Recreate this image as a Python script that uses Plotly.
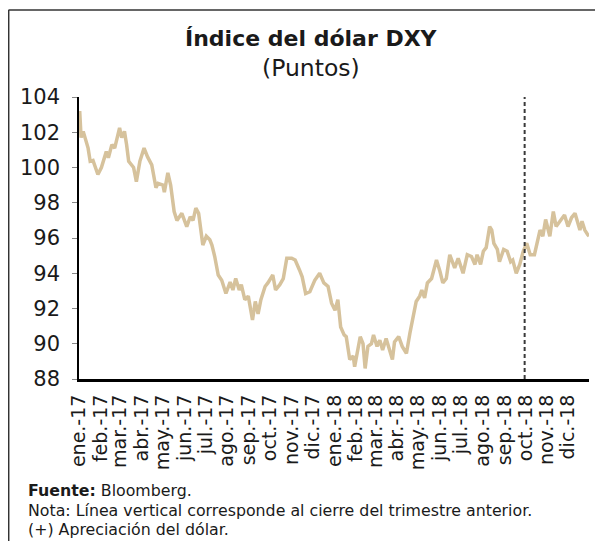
import pandas as pd
import plotly.graph_objects as go

# Días transcurridos desde 2017-01-01 y nivel del índice DXY (puntos)
dias = [0, 1, 3, 6, 13, 16, 20, 27, 32, 39, 42, 47, 51, 58, 61, 65, 68, 71, 78, 82, 87, 93, 98, 104,
        110, 113, 120, 122, 127, 131, 136, 140, 147, 154, 159, 163, 167, 171, 177, 182, 187, 190,
        194, 199, 204, 210, 216, 220, 224, 229, 232, 237, 242, 248, 252, 256, 260, 266, 270, 277,
        281, 287, 292, 297, 304, 309, 315, 319, 324, 330, 337, 344, 350, 356, 361, 366,
        370, 374, 379, 382, 387, 392, 394, 398, 402, 406, 409, 413, 418, 421, 426, 430, 434, 439,
        444, 448, 451, 457, 462, 468, 473, 478, 482, 487, 490, 494, 498, 504, 509, 511, 516, 520,
        525, 530, 537, 542, 549, 555, 561, 566, 569, 574, 578, 582, 587, 590, 593, 598, 601, 607,
        612, 617, 620, 625, 630, 635, 640, 645, 651, 655, 659, 663, 667, 673, 678, 682, 687, 694,
        699, 704, 709, 716, 719, 723, 727, 729]
dxy = [102.6, 103.2, 101.7, 102.05, 101.1, 100.35, 100.4, 99.6, 100.0, 100.9, 100.55, 101.3, 101.1,
       102.25, 101.7, 102.05, 101.3, 100.35, 100.0, 99.2, 100.35, 101.1, 100.6, 100.15,
       98.85, 99.1, 99.0, 98.6, 99.7, 99.0, 97.5, 97.0, 97.4, 96.65, 97.2, 97.0, 97.7, 97.4, 95.6,
       96.1, 95.9, 95.6,
       94.95, 93.9, 93.6, 92.85, 93.5, 93.05, 93.7, 93.05, 93.35, 92.5, 92.7, 91.35, 92.4, 91.7,
       92.5, 93.25, 93.45, 93.9, 93.05, 93.35, 93.7, 94.85, 94.85, 94.75, 94.2, 93.8, 92.85, 92.95,
       93.6, 94.0, 93.45, 93.25, 92.3, 91.9,
       92.5, 90.95, 90.5, 90.4, 89.1, 89.3, 88.7, 89.45, 90.4, 90.0, 88.6, 89.85, 90.0, 90.5, 89.85,
       90.2, 89.65, 90.3, 89.65, 89.1, 90.1, 90.4, 89.85, 89.45, 90.6, 91.55, 92.4, 92.7, 93.05,
       92.6, 93.45, 93.7, 94.4, 94.75, 94.1, 93.45, 93.7, 95.05,
       94.3, 94.85, 94.0, 95.05, 94.95, 94.5, 95.05, 94.5, 95.25, 95.45, 96.65, 96.45, 95.7, 95.35,
       94.65, 95.35, 95.25, 94.65, 94.75, 94.0, 94.5, 95.25, 95.7, 95.05, 95.05, 95.8, 96.45, 96.1,
       97.05, 96.1, 97.5, 96.65, 96.95, 97.3, 96.65, 97.15, 97.4, 96.45, 96.95, 96.45, 96.2, 96.1]

mes_ticks = pd.date_range("2017-01-01", "2018-12-01", freq="MS")
mes_abrev = ["ene.", "feb.", "mar.", "abr.", "may.", "jun.", "jul.", "ago.", "sep.", "oct.", "nov.", "dic."]
tick_labels = [f"{mes_abrev[d.month - 1]}-{str(d.year)[2:]}" for d in mes_ticks]

cierre_trimestre = "2018-09-30"
y_ticks = [88, 90, 92, 94, 96, 98, 100, 102, 104]

fechas = pd.Timestamp("2017-01-01") + pd.to_timedelta(dias, unit="D")

FONT = "DejaVu Sans"
TXT = "#1a1a1a"

fig = go.Figure()
fig.add_trace(go.Scatter(x=fechas, y=dxy, mode="lines",
                         line=dict(color="#D6C29C", width=3.5), showlegend=False))

fig.add_shape(type="line", xref="x", yref="y", x0=cierre_trimestre, x1=cierre_trimestre,
              y0=88, y1=104, line=dict(color="#3a3a3a", width=2, dash="4px,3px"))

# the page adds an 8px offset; layout in figure pixels
OFF = 8
W, H = 603, 541
L, R, T, B = 79 - OFF, 22, 97 - OFF, 170
pw, ph = W - L - R, H - T - B
def px(x):
    return (x - OFF - L) / pw
def py(y):
    return (H - B - (y - OFF)) / ph

# marco
fig.add_shape(type="line", xref="paper", yref="paper", x0=px(8.5), x1=px(620), y0=py(10), y1=py(10),
              line=dict(color="#333333", width=1.5))
fig.add_shape(type="line", xref="paper", yref="paper", x0=px(8.7), x1=px(8.7), y0=py(10), y1=py(560),
              line=dict(color="#333333", width=1.5))

fig.add_annotation(text="<b>Índice del dólar DXY</b>", xref="paper", yref="paper",
                   x=px(311), y=py(38), xanchor="center", yanchor="middle", showarrow=False,
                   font=dict(family=FONT, size=22, color=TXT))
fig.add_annotation(text="(Puntos)", xref="paper", yref="paper",
                   x=px(311), y=py(68), xanchor="center", yanchor="middle", showarrow=False,
                   font=dict(family=FONT, size=23.5, color=TXT))

notas = ["<b>Fuente:</b> Bloomberg.",
         "Nota: Línea vertical corresponde al cierre del trimestre anterior.",
         "(+) Apreciación del dólar."]
for txt, yy in zip(notas, [490, 510, 529]):
    fig.add_annotation(text=txt, xref="paper", yref="paper", x=px(26), y=py(yy),
                       xanchor="left", yanchor="middle", showarrow=False, align="left",
                       font=dict(family=FONT, size=15.8, color=TXT))

fig.update_layout(
    width=W, height=H, margin=dict(l=L, r=R, t=T, b=B),
    plot_bgcolor="white", paper_bgcolor="white",
    font=dict(family=FONT, color=TXT),
    xaxis=dict(type="date", range=["2017-01-01", "2018-12-31"], tickvals=mes_ticks,
               ticktext=tick_labels, tickangle=-90, showgrid=False, zeroline=False,
               showline=True, linecolor="black", linewidth=3, ticks="",
               tickfont=dict(family=FONT, size=19, color=TXT), ticklabelstandoff=5),
    yaxis=dict(range=[88, 104], tickvals=y_ticks, showgrid=False, zeroline=False,
               showline=True, linecolor="black", linewidth=1.5, ticks="outside",
               ticklen=5, tickcolor="#888888", tickwidth=1,
               tickfont=dict(family=FONT, size=21, color=TXT), ticklabelstandoff=8),
)

fig.write_html("out.html")
